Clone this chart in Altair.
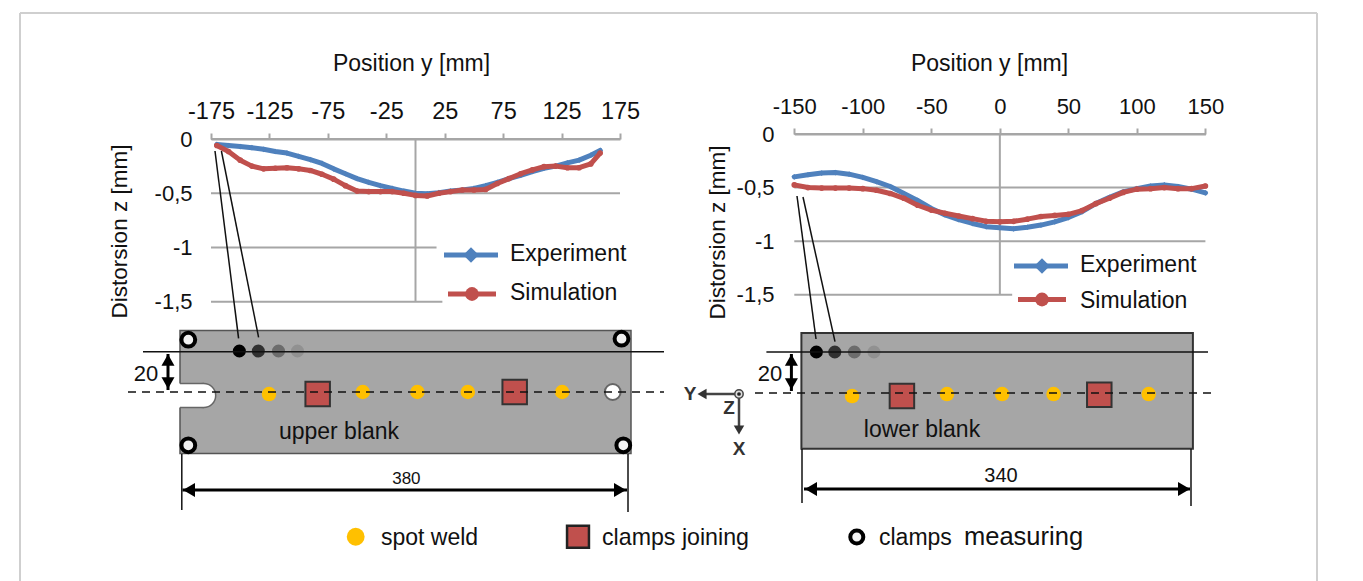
import altair as alt
import pandas as pd

# --- chart values ---
left_y = [-170,-160,-150,-140,-130,-120,-110,-100,-90,-80,-70,-60,-50,-40,-30,-20,-10,0,10,20,30,40,50,60,70,80,90,100,110,120,130,140,150,158]
left_exp = [-0.05,-0.06,-0.07,-0.08,-0.095,-0.115,-0.13,-0.16,-0.19,-0.225,-0.275,-0.32,-0.365,-0.40,-0.43,-0.455,-0.48,-0.50,-0.505,-0.495,-0.48,-0.47,-0.455,-0.43,-0.40,-0.365,-0.335,-0.30,-0.27,-0.25,-0.22,-0.195,-0.15,-0.105]
left_sim = [-0.06,-0.115,-0.195,-0.25,-0.275,-0.27,-0.265,-0.275,-0.29,-0.325,-0.37,-0.43,-0.48,-0.485,-0.485,-0.485,-0.50,-0.52,-0.525,-0.50,-0.485,-0.47,-0.47,-0.465,-0.41,-0.365,-0.32,-0.285,-0.255,-0.25,-0.265,-0.265,-0.23,-0.13]
right_y = [-150,-140,-130,-120,-110,-100,-90,-80,-70,-60,-50,-40,-30,-20,-10,0,10,20,30,40,50,60,70,80,90,100,110,120,130,140,150]
right_exp = [-0.40,-0.38,-0.365,-0.36,-0.375,-0.405,-0.445,-0.49,-0.555,-0.62,-0.695,-0.755,-0.80,-0.835,-0.865,-0.875,-0.885,-0.87,-0.85,-0.82,-0.78,-0.725,-0.65,-0.59,-0.54,-0.51,-0.485,-0.475,-0.49,-0.515,-0.55]
right_sim = [-0.475,-0.50,-0.505,-0.505,-0.505,-0.51,-0.525,-0.555,-0.60,-0.665,-0.71,-0.74,-0.765,-0.79,-0.815,-0.82,-0.815,-0.795,-0.77,-0.76,-0.75,-0.715,-0.65,-0.60,-0.545,-0.515,-0.51,-0.50,-0.51,-0.51,-0.485]
left_ticks = [-175,-125,-75,-25,25,75,125,175]
right_ticks = [-150,-100,-50,0,50,100,150]
z_ticks = [0,-0.5,-1,-1.5]
left_grid_end = [175,175,18,23]
right_grid_end = [150,150,150,9]

upper_welds_y = [-115,-36,10,52.5,132]
upper_welds_u = [-1,0,0,0,0]
upper_clamps_y = [-74,92]
upper_clamps_u = [-1,0]
upper_corner_y = [-183,182,-183,183.5]
upper_corner_u = [25.5,26,-26,-26]
lower_welds_y = [-126,-43.6,4.3,49,131.6]
lower_welds_u = [-1.5,-0.5,-0.5,-0.5,-0.5]
lower_clamps_y = [-82.7,88.7]
lower_clamps_u = [-1.5,-0.8]
upper_probe_y = [-140,-124,-107,-91]
lower_probe_y = [-157,-141,-124,-107]
probe_alpha = [1,0.7,0.35,0.12]

BLUE, RED, GREY, AMBER = "#4F81BD", "#C0504D", "#A6A6A6", "#FFC000"
FONT = "Liberation Sans"


def sc(dom, a, b):
    return alt.Scale(domain=dom, range=[a - 8, b - 8], nice=False, zero=False)


PANELS = {
    "L": (sc([-175, 175], 211, 620), sc([-1.5, 0], 301.7, 139)),
    "R": (sc([-150, 150], 794.3, 1205.4), sc([-1.5, 0], 294.7, 134)),
    "U": (sc([-190, 190], 180, 631), sc([-30, 30], 453.5, 330.5)),
    "W": (sc([-170, 170], 801.4, 1192.9), sc([-30, 30], 454.5, 331.5)),
    "P": (sc([0, 1363], 0, 1363), sc([0, 581], 0, 581)),
}


def enc(panel, xaxis=None, yaxis=None):
    sx, sy = PANELS[panel]
    return dict(
        x=alt.X("x:Q", scale=sx, axis=xaxis, title=None),
        y=alt.Y("y:Q", scale=sy, axis=yaxis, title=None),
    )


def rules(panel, segs, **mark):
    df = pd.DataFrame(segs, columns=["x", "x2", "y", "y2"])
    return alt.Chart(df).mark_rule(**mark).encode(x2="x2:Q", y2="y2:Q", **enc(panel))


def rects(panel, segs, **mark):
    df = pd.DataFrame(segs, columns=["x", "x2", "y", "y2"])
    return alt.Chart(df).mark_rect(**mark).encode(x2="x2:Q", y2="y2:Q", **enc(panel))


def pts(panel, xs, ys, **mark):
    df = pd.DataFrame({"x": xs, "y": ys})
    return alt.Chart(df).mark_point(filled=mark.pop("filled", True), opacity=mark.pop("opacity", 1), **mark).encode(**enc(panel))


def txt(panel, s, x, y, size=23, align="center", weight="normal", color="#111111", angle=0):
    df = pd.DataFrame({"x": [x], "y": [y], "t": [s]})
    return alt.Chart(df).mark_text(font=FONT, fontSize=size, align=align, baseline="middle",
                                   fontWeight=weight, color=color, angle=angle).encode(text="t:N", **enc(panel))


def curve(panel, xs, ys, color, shape, xaxis=None, yaxis=None):
    df = pd.DataFrame({"x": xs, "y": ys})
    base = alt.Chart(df)
    return [base.mark_line(color=color, strokeWidth=5, strokeJoin="round", strokeCap="round").encode(**enc(panel, xaxis, yaxis)),
            base.mark_point(color=color, filled=True, opacity=1, shape=shape, size=32).encode(**enc(panel))]


def xaxis(ticks, axis_y, title_x, title_y, label_size):
    return alt.Axis(orient="top", offset=-(axis_y - 8), values=ticks, grid=False,
                    domainColor=GREY, domainWidth=2, tickColor=GREY, tickWidth=2, tickSize=6,
                    labelFont=FONT, labelFontSize=label_size, labelColor="#111111", labelPadding=10,
                    labelExpr="'' + datum.value", labelOverlap=False, labelFlush=False,
                    title="Position y [mm]", titleFont=FONT, titleFontSize=23, titleFontWeight="normal",
                    titleColor="#111111", titleX=title_x - 8, titleY=title_y - axis_y, titleBaseline="middle")


def yaxis(axis_x, title_x, title_y):
    return alt.Axis(orient="left", offset=-(axis_x - 8), values=z_ticks, grid=False, domain=False, ticks=False,
                    labelFont=FONT, labelFontSize=22, labelColor="#111111", labelPadding=6,
                    labelExpr="replace('' + datum.value, '.', ',')", labelOverlap=False,
                    title="Distorsion z [mm]", titleFont=FONT, titleFontSize=22.5, titleFontWeight="normal",
                    titleColor="#111111", titleX=title_x - axis_x, titleY=title_y - 8, titleBaseline="middle")


DARK = "#333333"
layers = []
# frame
layers.append(rules("P", [[20, 20, 13, 581], [1317, 1317, 13, 581], [20, 1317, 13, 13]], color="#CFCFCF", strokeWidth=2))

# grids and curves
layers.append(rules("L", [[-175, e, z, z] for z, e in zip(z_ticks, left_grid_end)] + [[0, 0, 0, -1.5]], color=GREY, strokeWidth=2))
layers.append(rules("R", [[-150, e, z, z] for z, e in zip(z_ticks, right_grid_end)] + [[0, 0, 0, -1.5]], color=GREY, strokeWidth=2))
layers += curve("L", left_y, left_exp, BLUE, "diamond", xaxis(left_ticks, 139, 411, 63, 23.5), yaxis(198, 119, 231))
layers += curve("L", left_y, left_sim, RED, "circle")
layers += curve("R", right_y, right_exp, BLUE, "diamond", xaxis(right_ticks, 134, 989, 63, 22), yaxis(780, 717, 232))
layers += curve("R", right_y, right_sim, RED, "circle")

# chart keys
layers.append(rules("P", [[444, 498, 255, 255], [1014, 1068, 266, 266]], color=BLUE, strokeWidth=5))
layers.append(rules("P", [[448, 496, 294, 294], [1018, 1066, 299.5, 299.5]], color=RED, strokeWidth=5))
layers.append(pts("P", [471, 1042], [255, 266], color=BLUE, shape="diamond", size=240))
layers.append(pts("P", [472, 1042], [294, 299.5], color=RED, shape="circle", size=190))
layers.append(txt("P", "Experiment", 510, 254, align="left"))
layers.append(txt("P", "Simulation", 510, 293, align="left"))
layers.append(txt("P", "Experiment", 1080, 265, align="left"))
layers.append(txt("P", "Simulation", 1080, 301, align="left"))

# blanks
layers.append(rects("U", [[-190, 190, -30, 30]], color=GREY, stroke="#555555", strokeWidth=1.5))
layers.append(rects("W", [[-170, 170, -27.2, 29.3]], color=GREY, stroke=DARK, strokeWidth=2))
# slot of the upper blank
layers.append(pts("P", [203.7], [395.5], shape="circle", size=576, color="#FFFFFF", stroke="#666666", strokeWidth=1.5))
layers.append(rects("P", [[178, 204, 383.5, 407.5]], color="#FFFFFF"))
layers.append(rules("P", [[180, 204, 383.5, 383.5], [180, 204, 407.5, 407.5]], color="#666666", strokeWidth=1.5))
# hole
layers.append(pts("U", [174.6], [0], shape="circle", size=250, color="#FFFFFF", stroke="#666666", strokeWidth=2))
# clamps of the joining
for panel, xs, ys in (("U", upper_clamps_y, upper_clamps_u), ("W", lower_clamps_y, lower_clamps_u)):
    layers.append(pts(panel, xs, ys, shape="square", size=600, color=RED, stroke=DARK, strokeWidth=2))
# welds
layers.append(pts("U", upper_welds_y, upper_welds_u, shape="circle", size=210, color=AMBER))
layers.append(pts("W", lower_welds_y, lower_welds_u, shape="circle", size=210, color=AMBER))
# probes
for panel, xs in (("U", upper_probe_y), ("W", lower_probe_y)):
    for x_i, a in zip(xs, probe_alpha):
        layers.append(pts(panel, [x_i], [20], shape="circle", size=170, color="#000000", opacity=a))
# corner clamps
layers.append(pts("U", upper_corner_y, upper_corner_u, shape="circle", size=190, color="#F2F2F2", stroke="#000000", strokeWidth=4))
# lines
layers.append(rules("P", [[143, 664, 351.7, 351.7], [766.4, 1208, 352, 352],
                          [181.8, 181.8, 454, 510], [628, 628, 454, 512], [802, 802, 449, 503], [1191, 1191, 449, 506],
                          [215, 238.6, 151, 338.3], [221.4, 258.6, 151, 337.3], [797, 816, 196, 339], [803, 835, 197, 341.7]],
                  color="#111111", strokeWidth=1.5))
layers.append(rules("P", [[128, 664, 392, 392], [755, 1214, 393, 393]], color="#111111", strokeWidth=1.5, strokeDash=[8, 6]))
# dimension arrows
layers.append(rules("P", [[182.5, 627, 490, 490], [804, 1190, 489, 489], [168, 168, 354, 390], [791.4, 791.4, 354, 391]],
                    color="#000000", strokeWidth=3))
layers.append(pts("P", [168, 791.4], [360, 360], shape="triangle-up", size=170, color="#000000"))
layers.append(pts("P", [168, 791.4], [383, 384], shape="triangle-down", size=170, color="#000000"))
layers.append(pts("P", [189, 811], [490, 489], shape="triangle-left", size=190, color="#000000"))
layers.append(pts("P", [620, 1184], [490, 489], shape="triangle-right", size=190, color="#000000"))
# frame axes
layers.append(rules("P", [[702, 739, 394, 394], [739, 739, 394, 426]], color="#444444", strokeWidth=2.5))
layers.append(pts("P", [702], [394], shape="triangle-left", size=110, color="#333333"))
layers.append(pts("P", [739], [430], shape="triangle-down", size=110, color="#333333"))
layers.append(pts("P", [739], [394], shape="circle", size=70, color="#DDDDDD", stroke="#444444", strokeWidth=1.5))
layers.append(pts("P", [739], [394], shape="circle", size=14, color="#222222"))
layers.append(txt("P", "Y", 690, 394, size=19, weight="bold", color="#333333"))
layers.append(txt("P", "Z", 729, 408, size=19, weight="bold", color="#333333"))
layers.append(txt("P", "X", 739, 449, size=19, weight="bold", color="#333333"))
# labels
layers.append(txt("P", "20", 146, 374, size=22))
layers.append(txt("P", "20", 770, 374, size=22))
layers.append(txt("P", "380", 406.4, 479, size=17))
layers.append(txt("P", "340", 1001, 476, size=20))
layers.append(txt("P", "upper blank", 339, 432, size=23))
layers.append(txt("P", "lower blank", 922, 430, size=23))
# bottom key
layers.append(pts("P", [355.7], [536.7], shape="circle", size=320, color=AMBER))
layers.append(pts("P", [578], [536.7], shape="square", size=480, color=RED, stroke="#222222", strokeWidth=2.5))
layers.append(pts("P", [856.8], [537], shape="circle", size=170, color="#F2F2F2", stroke="#000000", strokeWidth=4))
layers.append(txt("P", "spot weld", 381, 538, align="left"))
layers.append(txt("P", "clamps joining", 602, 538, size=23.2, align="left"))
layers.append(txt("P", "clamps", 879, 538, align="left"))
layers.append(txt("P", "measuring", 964, 537, size=25.5, align="left"))

chart = (
    alt.layer(*layers)
    .resolve_scale(x="independent", y="independent")
    .properties(width=1347, height=573, padding=0, autosize="none", background="white")
    .configure_view(stroke=None)
)
chart.save("out.html", embed_options={"renderer": "svg", "actions": False})
